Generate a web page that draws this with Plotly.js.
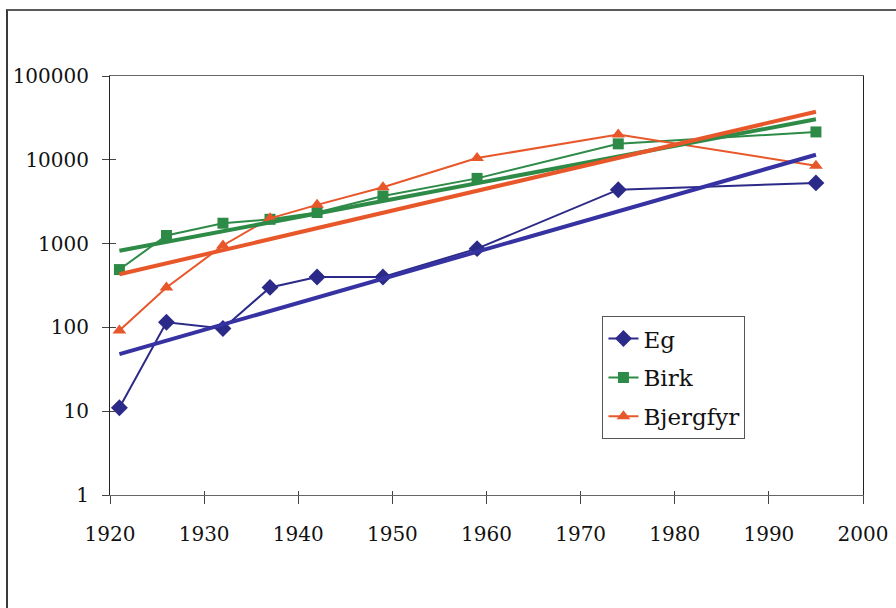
<!DOCTYPE html>
<html>
<head>
<meta charset="utf-8">
<script src="https://cdn.plot.ly/plotly-3.0.1.min.js"></script>
<style>
  html, body { margin: 0; padding: 0; background: #fff; }
  #wrap { position: relative; width: 896px; height: 608px; overflow: hidden; }
  #chart { position: absolute; left: 0; top: 0; width: 896px; height: 608px; }
  #frame {
    position: absolute; left: 6px; top: 9px; width: 900px; height: 610px;
    border-top: 2px solid #5a5a5a; border-left: 2px solid #3a3a3a;
    pointer-events: none; z-index: 5;
  }
</style>
</head>
<body>
<div id="wrap">
  <div id="chart"></div>
  <div id="frame"></div>
</div>
<script>
// Observation years
const years = [1921, 1926, 1932, 1937, 1942, 1949, 1959, 1974, 1995];

// Counts per species (log scale)
const eg       = [11, 115, 97, 300, 400, 400, 870, 4400, 5300];
const birk     = [490, 1250, 1750, 1950, 2350, 3700, 6000, 15500, 21500];
const bjergfyr = [92, 300, 950, 2000, 2900, 4700, 10500, 20000, 8500];

// Exponential trend lines (straight on a log axis): endpoints
const trendYears    = [1921, 1995];
const egTrend       = [48, 11500];
const birkTrend     = [820, 30500];
const bjergfyrTrend = [430, 37500];

// Axis ticks
const xTicks = [1920, 1930, 1940, 1950, 1960, 1970, 1980, 1990, 2000];
const yTicks = [1, 10, 100, 1000, 10000, 100000];
const yTickText = ['1', '10', '100', '1000', '10000', '100000'];

const BLUE = '#2c2a88';
const GREEN = '#2e8b47';
const ORANGE = '#e8572a';
const FONT = 'DejaVu Serif, serif';

function series(name, y, color, symbol, size) {
  return {
    x: years, y: y, name: name, type: 'scatter', mode: 'lines+markers',
    line: { color: color, width: 2 },
    marker: { color: color, symbol: symbol, size: size },
    legendgroup: name
  };
}
function trend(y, color) {
  return {
    x: trendYears, y: y, type: 'scatter', mode: 'lines',
    line: { color: color, width: 4 }, showlegend: false, hoverinfo: 'skip',
    xaxis: 'x2', yaxis: 'y2'
  };
}

const data = [
  series('Eg', eg, BLUE, 'diamond', 13),
  series('Birk', birk, GREEN, 'square', 11),
  series('Bjergfyr', bjergfyr, ORANGE, 'triangle-up', 12),
  trend(egTrend, '#3632a2'),
  trend(birkTrend, GREEN),
  trend(bjergfyrTrend, ORANGE)
];

const xRange = [1920, 2000];
const yRange = [0, 5];

const layout = {
  width: 896, height: 608,
  margin: { l: 110, r: 33, t: 76, b: 113 },
  paper_bgcolor: '#fff', plot_bgcolor: '#fff',
  font: { family: FONT, size: 20, color: '#111' },
  showlegend: true,
  legend: {
    x: 0.654, y: 0.427, xanchor: 'left', yanchor: 'top',
    bgcolor: '#fff', bordercolor: '#555', borderwidth: 1,
    font: { family: FONT, size: 23, color: '#111' },
    traceorder: 'grouped', tracegroupgap: 6
  },
  xaxis: {
    range: xRange, tickvals: xTicks, ticktext: xTicks.map(String),
    showgrid: false, zeroline: false,
    showline: true, linecolor: '#666', linewidth: 1, mirror: true,
    ticks: 'outside', ticklen: 8, tickcolor: '#444', tickwidth: 1,
    ticklabelstandoff: 13,
    tickfont: { family: FONT, size: 20, color: '#111' }
  },
  yaxis: {
    type: 'log', range: yRange, tickvals: yTicks, ticktext: yTickText,
    showgrid: false, zeroline: false,
    showline: true, linecolor: '#222', linewidth: 1, mirror: true,
    ticks: 'outside', ticklen: 7, tickcolor: '#444', tickwidth: 1,
    ticklabelstandoff: 9,
    tickfont: { family: FONT, size: 20, color: '#111' }
  },
  // Overlay axes provide the inner half of the crossing tick marks
  xaxis2: {
    overlaying: 'x', range: xRange, tickvals: xTicks,
    showticklabels: false, showgrid: false, zeroline: false, showline: false,
    ticks: 'inside', ticklen: 4, tickcolor: '#444', tickwidth: 1, side: 'bottom'
  },
  yaxis2: {
    overlaying: 'y', type: 'log', range: yRange, tickvals: yTicks,
    showticklabels: false, showgrid: false, zeroline: false, showline: false,
    ticks: 'inside', ticklen: 6, tickcolor: '#444', tickwidth: 1, side: 'left'
  }
};

Plotly.newPlot('chart', data, layout, { staticPlot: true, displayModeBar: false });
</script>
</body>
</html>
